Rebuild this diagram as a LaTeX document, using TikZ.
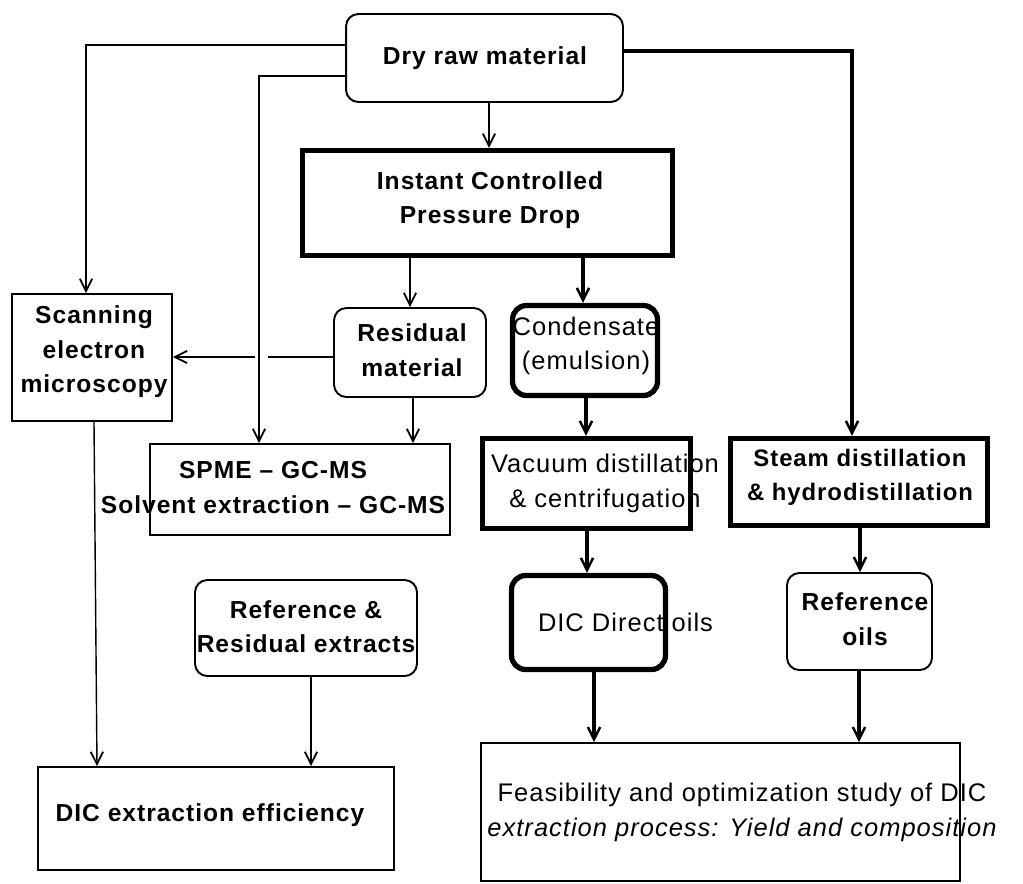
\documentclass[tikz,border=0pt]{standalone}
\usepackage{fontspec}
\newfontfamily\lf{Liberation Sans}[LetterSpace=4]
\usetikzlibrary{arrows.meta}
\tikzset{
  thinbox/.style={draw, line width=1.1pt, rectangle, inner sep=0pt},
  thinround/.style={thinbox, rounded corners=7pt},
  thickbox/.style={draw, line width=3pt, rectangle, inner sep=0pt},
  thickround/.style={thickbox, rounded corners=8pt},
  lbl/.style={font=\lf\fontsize{14}{19.6}\selectfont\bfseries, align=center, inner sep=0pt},
  lbls/.style={font=\lf\fontsize{13.6}{19.6}\selectfont\bfseries, align=center, inner sep=0pt},
  lblr/.style={font=\lf\fontsize{14.5}{19.6}\selectfont, align=center, inner sep=0pt},
  conn/.style={draw, line width=0.8pt, -{Straight Barb[length=7pt,width=7pt,line width=1pt]}},
  medconn/.style={conn, line width=1.2pt},
  thickconn/.style={draw, line width=1.8pt, -{Straight Barb[length=7pt,width=7pt,line width=1.4pt]}},
}
\begin{document}
\begin{tikzpicture}[x=0.02cm, y=-0.02cm]
\useasboundingbox[fill=white] (0,0) rectangle (1023,883);
% boxes
\node[thinround, minimum width=5.54cm, minimum height=1.76cm] (dry) at (484.5,58) {};
\node[thickbox, minimum width=7.4cm, minimum height=2.1cm] (icpd) at (487.5,203) {};
\node[thinbox, minimum width=3.2cm, minimum height=2.54cm] (scan) at (92,357.5) {};
\node[thinround, minimum width=3.04cm, minimum height=1.78cm] (resid) at (410,352.5) {};
\node[thickround, minimum width=2.9cm, minimum height=1.8cm] (cond) at (585,350.5) {};
\node[thinbox, minimum width=6.0cm, minimum height=1.82cm] (spme) at (300,489.5) {};
\node[thickbox, minimum width=4.16cm, minimum height=1.8cm] (vac) at (586.5,483.5) {};
\node[thickbox, minimum width=5.14cm, minimum height=1.74cm] (steam) at (859,482) {};
\node[thickround, minimum width=3.08cm, minimum height=1.88cm] (dicd) at (588.5,622.5) {};
\node[thinround, minimum width=2.9cm, minimum height=1.94cm] (refoil) at (859.5,621.5) {};
\node[thinround, minimum width=4.44cm, minimum height=1.92cm] (refres) at (306,628) {};
\node[thinbox, minimum width=7.12cm, minimum height=2.06cm] (dice) at (216,818.5) {};
\node[thinbox, minimum width=9.58cm, minimum height=2.76cm] (feas) at (720.5,812) {};
% texts
\node[lbl] (dryt) at (485,58) {Dry raw material};
\node[lbl] (icpdt) at (490,200) {Instant Controlled\\Pressure Drop};
\node[lbl] (scant) at (94,352) {Scanning\\electron\\microscopy};
\node[lbl] (residt) at (412,350) {Residual\\material};
\node[lblr] (condt) at (586,346) {Condensate\\(emulsion)};
\node[lbl] (spmet) at (273,487.5) {SPME – GC-MS\\Solvent extraction – GC-MS};
\node[lblr] (vact) at (605,483.5) {Vacuum distillation\\\& centrifugation};
\node[lbls] (steamt) at (860,477.5) {Steam distillation\\\& hydrodistillation};
\node[lblr] (dicdt) at (625.5,622) {DIC Direct oils};
\node[lbl] (refoilt) at (865,619) {Reference\\oils};
\node[lbl] (refrest) at (306,626.5) {Reference \&\\Residual extracts};
\node[lbl] (dicet) at (210,815) {DIC extraction efficiency};
\node[lblr] (feast) at (742,812.5) {Feasibility and optimization study of DIC\\\itshape extraction process: Yield and composition};
% helper coordinates
\coordinate (c1) at (86,45);
\coordinate (c2) at (259,76);
\coordinate (c3) at (852,51);
\coordinate (c4) at (410,0);
\coordinate (c5) at (583,0);
\coordinate (c6) at (413,0);
\coordinate (c7) at (0,357);
\coordinate (c8) at (586,0);
\coordinate (c9) at (587,0);
\coordinate (c10) at (860,0);
\coordinate (c11) at (594,0);
\coordinate (c12) at (859,0);
\coordinate (c13) at (311,0);
\coordinate (c14) at (94,0);
\coordinate (c15) at (97,0);
\coordinate (g1) at (255,357);
\coordinate (g2) at (268,357);
\coordinate (c0) at (489,0);
% connectors
\draw[conn] (c0 |- dry.south) -- (c0 |- icpd.north);
\draw[conn] (dry.west |- c1) -| (c1 |- scan.north);
\draw[conn] (resid.west |- c7) -- (scan.east |- c7);
\draw[white, line width=4pt] (g1) -- (g2);
\draw[conn] (dry.west |- c2) -| (c2 |- spme.north);
\draw[thickconn] (dry.east |- c3) -| (c3 |- steam.north);
\draw[medconn] (c4 |- icpd.south) -- (c4 |- resid.north);
\draw[thickconn] (c5 |- icpd.south) -- (c5 |- cond.north);
\draw[conn] (c6 |- resid.south) -- (c6 |- spme.north);
\draw[thickconn] (c8 |- cond.south) -- (c8 |- vac.north);
\draw[thickconn] (c9 |- vac.south) -- (c9 |- dicd.north);
\draw[thickconn] (c10 |- steam.south) -- (c10 |- refoil.north);
\draw[thickconn] (c11 |- dicd.south) -- (c11 |- feas.north);
\draw[thickconn] (c12 |- refoil.south) -- (c12 |- feas.north);
\draw[conn] (c13 |- refres.south) -- (c13 |- dice.north);
\draw[conn] (c14 |- scan.south) -- (c15 |- dice.north);
\end{tikzpicture}
\end{document}
